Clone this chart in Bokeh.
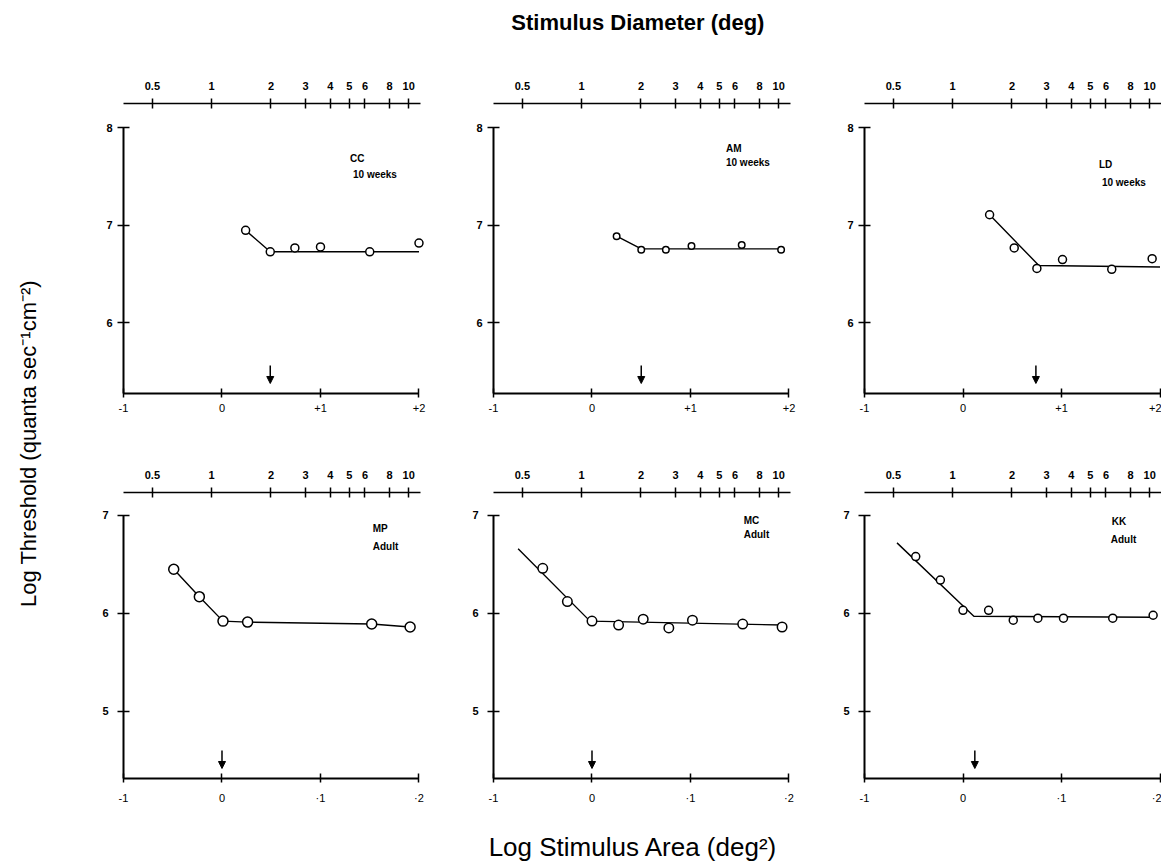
import math
from bokeh.plotting import figure
from bokeh.layouts import row, column
from bokeh.models import Range1d, LinearAxis, FixedTicker, Arrow, NormalHead
from bokeh.core.properties import value
from bokeh.embed import file_html
from bokeh.resources import INLINE

# ---------------- data ----------------
subjects = ["CC", "AM", "LD", "MP", "MC", "KK"]
ages = ["10 weeks", "10 weeks", "10 weeks", "Adult", "Adult", "Adult"]

cc_x = [0.24, 0.49, 0.74, 1.00, 1.50, 2.00]
cc_y = [6.95, 6.73, 6.77, 6.78, 6.73, 6.82]
cc_fit_x = [0.24, 0.49, 2.00]
cc_fit_y = [6.95, 6.73, 6.73]

am_x = [0.25, 0.50, 0.75, 1.01, 1.52, 1.92]
am_y = [6.89, 6.75, 6.75, 6.79, 6.80, 6.75]
am_fit_x = [0.25, 0.50, 1.92]
am_fit_y = [6.89, 6.76, 6.76]

ld_x = [0.27, 0.52, 0.75, 1.01, 1.51, 1.92]
ld_y = [7.11, 6.77, 6.56, 6.65, 6.55, 6.66]
ld_fit_x = [0.27, 0.77, 2.00]
ld_fit_y = [7.11, 6.59, 6.575]

mp_x = [-0.49, -0.23, 0.01, 0.26, 1.52, 1.91]
mp_y = [6.45, 6.17, 5.92, 5.91, 5.89, 5.86]
mp_fit_x = [-0.49, -0.23, 0.01, 0.26, 1.52, 1.91]
mp_fit_y = [6.45, 6.17, 5.92, 5.91, 5.89, 5.86]

mc_x = [-0.50, -0.25, 0.00, 0.27, 0.52, 0.78, 1.02, 1.53, 1.93]
mc_y = [6.46, 6.12, 5.92, 5.88, 5.94, 5.85, 5.93, 5.89, 5.86]
mc_fit_x = [-0.75, -0.02, 1.93]
mc_fit_y = [6.66, 5.92, 5.88]

kk_x = [-0.48, -0.23, 0.00, 0.26, 0.51, 0.76, 1.02, 1.52, 1.93]
kk_y = [6.58, 6.34, 6.03, 6.03, 5.93, 5.95, 5.95, 5.95, 5.98]
kk_fit_x = [-0.67, 0.11, 1.93]
kk_fit_y = [6.72, 5.97, 5.96]

# critical area (arrow) per subject, log deg^2
break_x = [0.49, 0.50, 0.74, 0.00, 0.00, 0.12]

# top axis: stimulus diameter (deg)
diam_values = [0.5, 1, 2, 3, 4, 5, 6, 8, 10]
diam_labels = ["0.5", "1", "2", "3", "4", "5", "6", "8", "10"]

# bottom axis: log stimulus area
area_ticks = [-1, 0, 1, 2]
area_labels_top = ["-1", "0", "+1", "+2"]
area_labels_bottom = ["-1", "0", "·1", "·2"]

thr_ticks_top = [6, 7, 8]
thr_ticks_bottom = [5, 6, 7]

series = [
    (cc_x, cc_y, cc_fit_x, cc_fit_y),
    (am_x, am_y, am_fit_x, am_fit_y),
    (ld_x, ld_y, ld_fit_x, ld_fit_y),
    (mp_x, mp_y, mp_fit_x, mp_fit_y),
    (mc_x, mc_y, mc_fit_x, mc_fit_y),
    (kk_x, kk_y, kk_fit_x, kk_fit_y),
]

# ---------------- layout / style ----------------
FONT = "Liberation Sans"
ROWS = [
    dict(ybot=5.277, ytop=8.251, yticks=thr_ticks_top, ymax_axis=8, fh=290,
         top=103, bottom=45, blabels=area_labels_top, bstand=6, lstand=5, unit=97.5),
    dict(ybot=4.311, ytop=7.235, yticks=thr_ticks_bottom, ymax_axis=7, fh=286,
         top=54, bottom=88, blabels=area_labels_bottom, bstand=9, lstand=9, unit=97.8),
]
COLS = [
    dict(left=65, fw=301, right=17, xend=2.056, tb=2.02),
    dict(left=52, fw=301, right=17, xend=2.056, tb=2.02),
    dict(left=53, fw=297, right=0, xend=2.015, tb=2.015),
]
# label placements (data coords) and marker sizes per panel
label_pos = [
    ((1.30, 7.69), (1.33, 7.52)),
    ((1.36, 7.79), (1.36, 7.65)),
    ((1.38, 7.63), (1.41, 7.44)),
    ((1.53, 6.87), (1.53, 6.68)),
    ((1.54, 6.95), (1.54, 6.81)),
    ((1.51, 6.94), (1.50, 6.75)),
]
marker_size = [8, 6.5, 8, 10, 9.5, 8]

top_ticks = [math.log10(math.pi / 4.0 * d * d) for d in diam_values]


def style_axis(a, size="11px", bold=True, standoff=6, tin=5, tout=5, lw=2):
    a.axis_line_width = lw
    a.axis_line_color = "black"
    a.major_tick_line_width = 1.5
    a.major_tick_line_color = "black"
    a.major_tick_in = tin
    a.major_tick_out = tout
    a.minor_tick_line_color = None
    a.major_label_text_font = FONT
    a.major_label_text_font_size = size
    a.major_label_text_font_style = "bold" if bold else "normal"
    a.major_label_text_color = "black"
    a.major_label_standoff = standoff


panels = []
for i in range(6):
    r = ROWS[i // 3]
    c = COLS[i % 3]
    p = figure(frame_width=c["fw"], frame_height=r["fh"],
               x_range=Range1d(-1, c["xend"]), y_range=Range1d(r["ybot"], r["ytop"]),
               x_axis_location=None, y_axis_location=None,
               min_border_left=c["left"], min_border_right=c["right"],
               min_border_top=r["top"], min_border_bottom=r["bottom"],
               output_backend="svg", toolbar_location=None)
    p.outline_line_color = None
    p.grid.grid_line_color = None
    p.background_fill_color = "white"
    p.border_fill_color = "white"

    # left axis: log threshold
    la = LinearAxis(ticker=FixedTicker(ticks=r["yticks"], minor_ticks=[]),
                    bounds=(r["ybot"], r["ymax_axis"]))
    style_axis(la, standoff=r["lstand"], tin=6, tout=6)
    p.add_layout(la, "left")

    # bottom axis: log stimulus area
    ba = LinearAxis(ticker=FixedTicker(ticks=area_ticks, minor_ticks=[]), bounds=(-1, 2),
                    major_label_overrides={t: s for t, s in zip(area_ticks, r["blabels"])})
    style_axis(ba, bold=False, standoff=r["bstand"], tin=5, tout=4)
    p.add_layout(ba, "below")

    # top axis: stimulus diameter
    ta = LinearAxis(ticker=FixedTicker(ticks=top_ticks, minor_ticks=[]), bounds=(-1, c["tb"]),
                    major_label_overrides={t: s for t, s in zip(top_ticks, diam_labels)})
    style_axis(ta, standoff=9, tin=5, tout=5, lw=1.5)
    p.add_layout(ta, "above")

    if i == 1:
        ta.axis_label = "Stimulus  Diameter  (deg)"
        ta.axis_label_text_font = FONT
        ta.axis_label_text_font_size = "22px"
        ta.axis_label_text_font_style = "bold"
        ta.axis_label_text_color = "black"
        ta.axis_label_standoff = 44
    if i == 4:
        ba.axis_label = "Log  Stimulus  Area  (deg²)"
        ba.axis_label_text_font = FONT
        ba.axis_label_text_font_size = "26px"
        ba.axis_label_text_font_style = "normal"
        ba.axis_label_text_color = "black"
        ba.axis_label_standoff = 25

    xs, ys, fx, fy = series[i]
    p.line(fx, fy, line_color="black", line_width=1.4)
    p.scatter(xs, ys, marker="circle", size=marker_size[i], fill_color="white",
              line_color="black", line_width=1.5)

    u = r["unit"]
    p.add_layout(Arrow(end=NormalHead(size=7, line_color="black", fill_color="black", line_width=1),
                       x_start=break_x[i], y_start=r["ybot"] + 28 / u,
                       x_end=break_x[i], y_end=r["ybot"] + 10 / u,
                       line_color="black", line_width=1.5))

    (sx, sy), (ax_, ay) = label_pos[i]
    p.text(x=[sx, ax_], y=[sy, ay], text=[subjects[i], ages[i]],
           text_font=value(FONT), text_font_size="10px", text_font_style="bold",
           text_align="left", text_baseline="middle", text_color="black")
    panels.append(p)

# left-hand shared y label
H = 866
lab = figure(frame_width=58, frame_height=H, x_range=Range1d(0, 58), y_range=Range1d(0, H),
             x_axis_location=None, y_axis_location=None, min_border=0,
             output_backend="svg", toolbar_location=None)
lab.outline_line_color = None
lab.grid.grid_line_color = None
lab.text(x=[28], y=[H - 443], text=["Log Threshold (quanta sec⁻¹cm⁻²)"], angle=math.pi / 2,
         text_align="center", text_baseline="middle", text_font=value(FONT),
         text_font_size="22px", text_color="black")

layout = row(lab, column(row(*panels[:3]), row(*panels[3:])))

open("out.html", "w").write(file_html(layout, INLINE))
